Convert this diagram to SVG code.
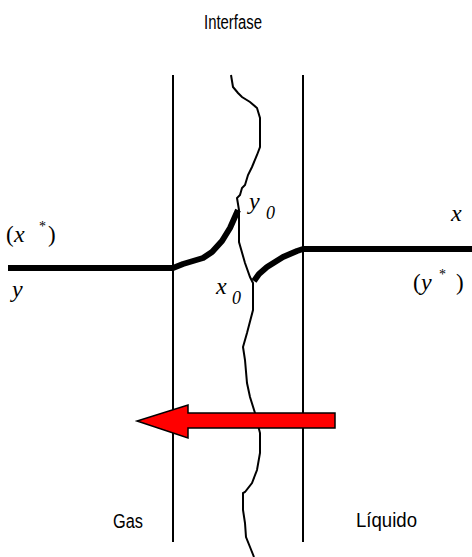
<svg xmlns="http://www.w3.org/2000/svg" width="472" height="557" viewBox="0 0 472 557">
<style>
.lbl{font-family:"Liberation Sans",Arial,sans-serif;font-size:20px;fill:#000}
.m{font-family:"Liberation Serif","Times New Roman",serif;font-size:24px;font-style:italic;fill:#000}
.p{font-family:"Liberation Serif","Times New Roman",serif;font-size:23px;fill:#000}
.sub{font-family:"Liberation Serif","Times New Roman",serif;font-size:18px;font-style:italic;fill:#000}
.sup{font-family:"Liberation Serif","Times New Roman",serif;font-size:14px;fill:#000}
.thin{fill:none;stroke:#000;stroke-width:2}
.thick{fill:none;stroke:#000;stroke-width:6;stroke-linejoin:round}
</style>
<rect width="472" height="557" fill="#fff"/>
<g id="film-boundaries">
<line class="thin" x1="173" y1="75" x2="173" y2="542"/>
<line class="thin" x1="303" y1="75" x2="303" y2="542"/>
</g>
<g id="interface">
<path class="thin" d="M231,75 L233,87 L238,93 L242,97 L250,102 L257,108 L260,118 L260,147 L257,155 L252,167 L248,175 L245,185 L242,188 L240,195 L237,198 L239,210 L239,242 L245,263 L250,277 L253,283 L253,310 L247,333 L243,347 L245,360 L247,383 L250,397 L255,413 L260,433 L260,453 L257,470 L252,483 L245,492 L243,493 L243,510 L245,523 L246,537 L250,547 L254,557"/>
</g>
<g id="profiles">
<path class="thick" d="M8,268 L173,268 L183,264 L193,261 L203,258 L212,252 L222,241 L230,228 L238,210"/>
<path class="thick" d="M254,281 L259,274 L267,267 L283,257 L297,251 L303,249 L472,249"/>
</g>
<g id="flux-arrow">
<path d="M335,413 L188,413 L188,405 L137,421 L188,438 L188,428 L335,428 Z" fill="#ff0000" stroke="#000" stroke-width="1.5" stroke-linejoin="miter"/>
</g>
<g id="labels">
<text class="lbl" x="233" y="29" text-anchor="middle" textLength="58" lengthAdjust="spacingAndGlyphs">Interfase</text>
<text class="lbl" x="113" y="528" textLength="30" lengthAdjust="spacingAndGlyphs">Gas</text>
<text class="lbl" x="356" y="527" textLength="61" lengthAdjust="spacingAndGlyphs">Líquido</text>
<text y="242"><tspan class="p" x="6">(</tspan><tspan class="m" x="14">x</tspan><tspan class="sup" x="39" y="231">*</tspan><tspan class="p" x="48" y="242">)</tspan></text>
<text class="m" x="12" y="297">y</text>
<text class="m" x="451" y="221">x</text>
<text y="290"><tspan class="p" x="413">(</tspan><tspan class="m" x="421">y</tspan><tspan class="sup" x="439" y="279">*</tspan><tspan class="p" x="456" y="290">)</tspan></text>
<text><tspan class="m" x="249" y="209">y</tspan><tspan class="sub" x="266" y="219">0</tspan></text>
<text><tspan class="m" x="216" y="294">x</tspan><tspan class="sub" x="232" y="304">0</tspan></text>
</g>
</svg>
